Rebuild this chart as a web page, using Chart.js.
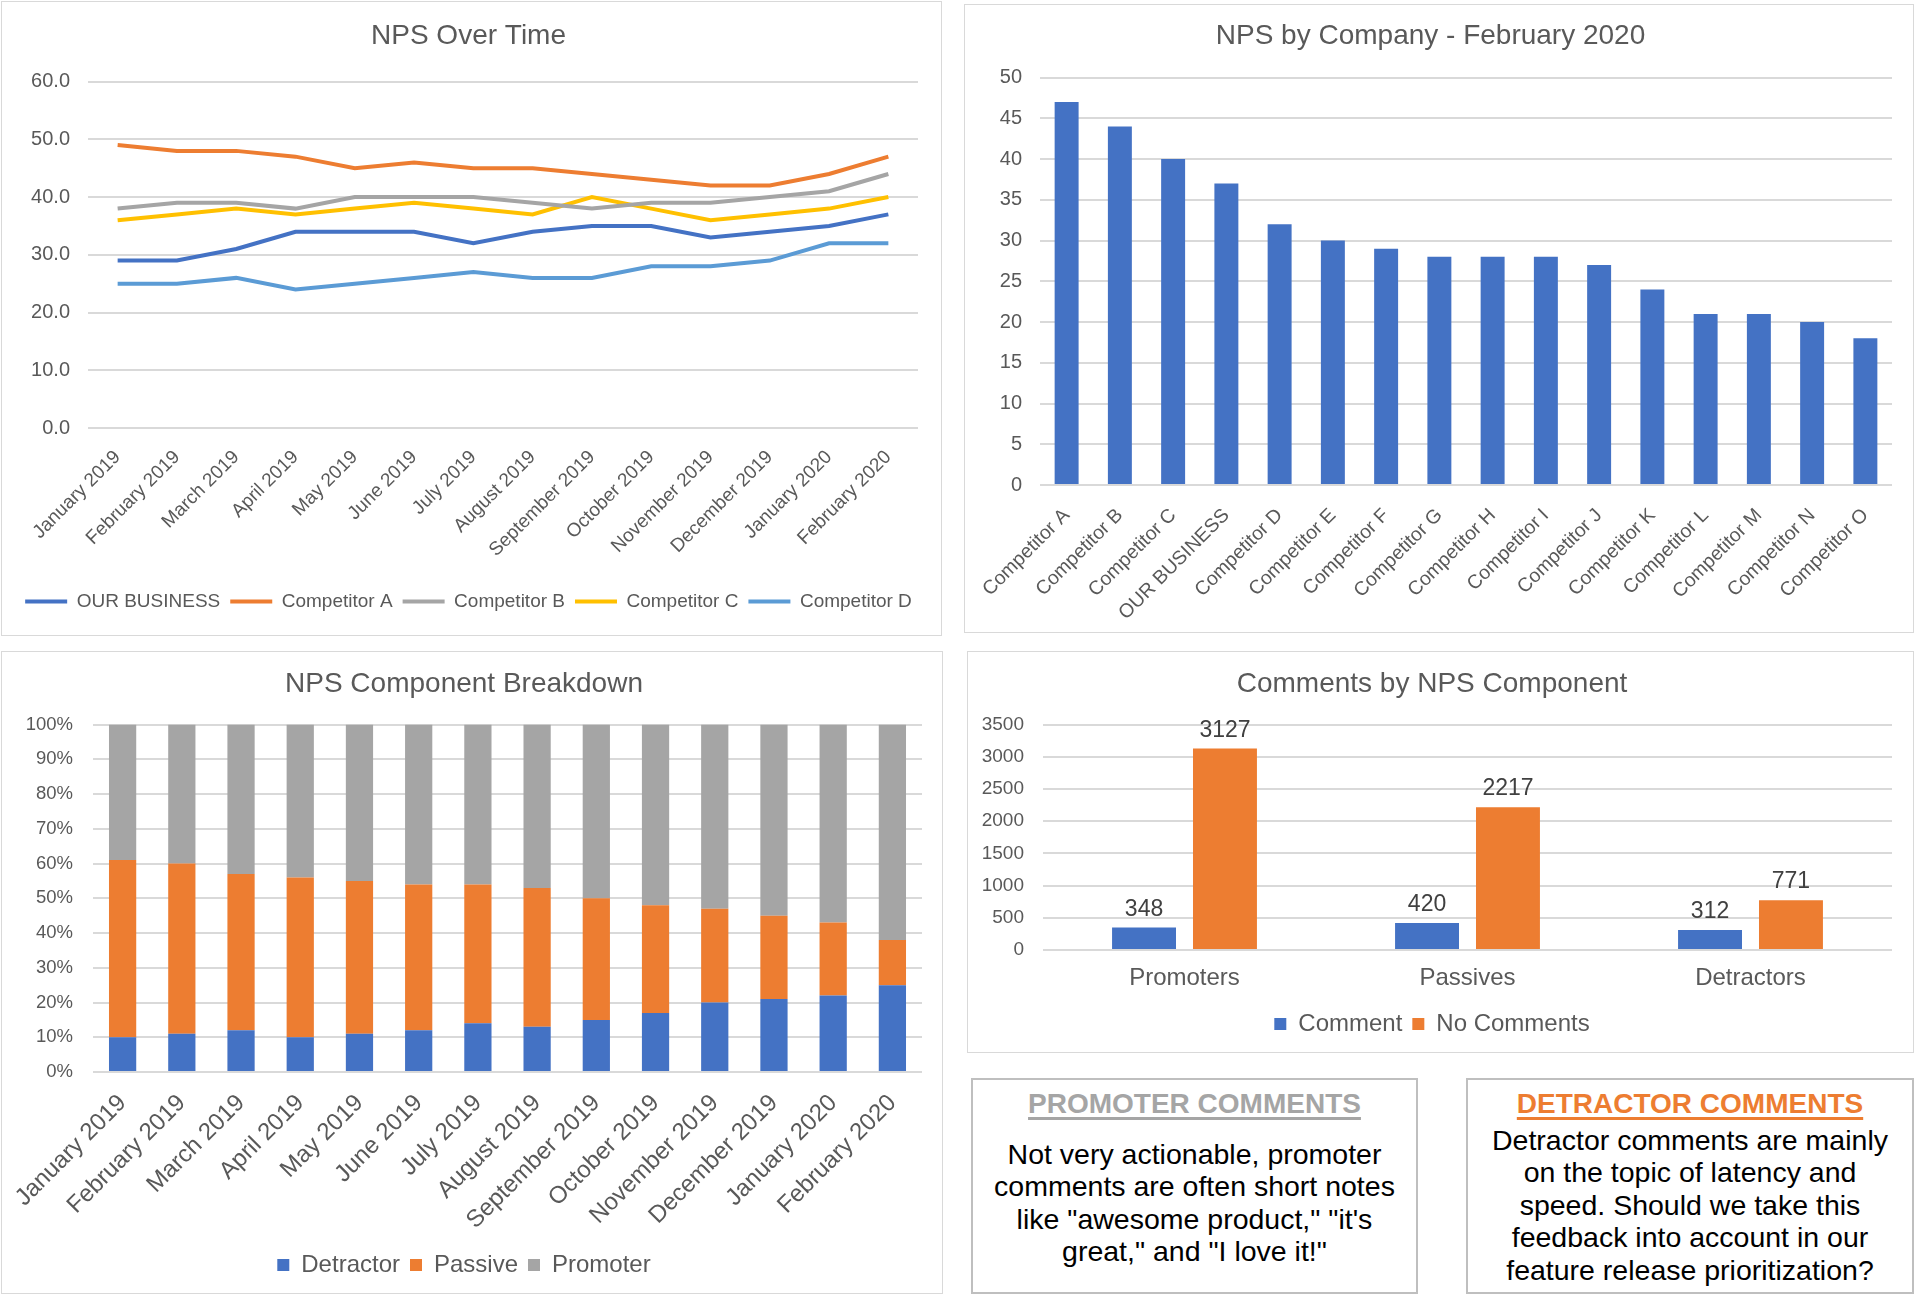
<!DOCTYPE html>
<html>
<head>
<meta charset="utf-8">
<script src="https://cdn.jsdelivr.net/npm/chart.js@4.4.1/dist/chart.umd.min.js"></script>
<style>
  body { margin: 0; background: #fff; width: 1916px; height: 1296px; position: relative; overflow: hidden; font-family: "Liberation Sans", Arial, sans-serif; }
  .panel { position: absolute; border: 1px solid #d9d9d9; box-sizing: border-box; background: #fff; }
  .panel canvas { display: block; }
  .note { position: absolute; border: 2px solid #bfbfbf; box-sizing: border-box; text-align: center; }
  .note h3 { margin: 8px 0 4px 0; font-size: 28px; font-weight: bold; text-decoration: underline; text-decoration-thickness: 3px; text-underline-offset: 4px; }
  .note p { margin: 0 10px; font-size: 28.5px; line-height: 32.4px; color: #000; }
</style>
</head>
<body>
<div class="panel" style="left:1px;top:1px;width:941px;height:635px"><canvas id="lineChart"></canvas></div>
<div class="panel" style="left:964px;top:4px;width:950px;height:629px"><canvas id="companyChart"></canvas></div>
<div class="panel" style="left:1px;top:651px;width:942px;height:643px"><canvas id="stackChart"></canvas></div>
<div class="panel" style="left:967px;top:651px;width:947px;height:402px"><canvas id="commentChart"></canvas></div>
<div class="note" style="left:971px;top:1078px;width:447px;height:216px">
  <h3 style="color:#a5a5a5">PROMOTER COMMENTS</h3>
  <p style="margin-top:18px">Not very actionable, promoter comments are often short notes like "awesome product," "it's great," and "I love it!"</p>
</div>
<div class="note" style="left:1466px;top:1078px;width:448px;height:216px">
  <h3 style="color:#ed7d31">DETRACTOR COMMENTS</h3>
  <p>Detractor comments are mainly on the topic of latency and speed. Should we take this feedback into account in our feature release prioritization?</p>
</div>
<script>
const months = ["January 2019", "February 2019", "March 2019", "April 2019", "May 2019", "June 2019", "July 2019",
  "August 2019", "September 2019", "October 2019", "November 2019", "December 2019", "January 2020", "February 2020"];

const ourBusiness = [29, 29, 31, 34, 34, 34, 32, 34, 35, 35, 33, 34, 35, 37];
const competitorA = [49, 48, 48, 47, 45, 46, 45, 45, 44, 43, 42, 42, 44, 47];
const competitorB = [38, 39, 39, 38, 40, 40, 40, 39, 38, 39, 39, 40, 41, 44];
const competitorC = [36, 37, 38, 37, 38, 39, 38, 37, 40, 38, 36, 37, 38, 40];
const competitorD = [25, 25, 26, 24, 25, 26, 27, 26, 26, 28, 28, 29, 32, 32];

const companies = ["Competitor A", "Competitor B", "Competitor C", "OUR BUSINESS", "Competitor D", "Competitor E",
  "Competitor F", "Competitor G", "Competitor H", "Competitor I", "Competitor J", "Competitor K", "Competitor L",
  "Competitor M", "Competitor N", "Competitor O"];
const companyNps = [47, 44, 40, 37, 32, 30, 29, 28, 28, 28, 27, 24, 21, 21, 20, 18];

const detractorPct = [10, 11, 12, 10, 11, 12, 14, 13, 15, 17, 20, 21, 22, 25];
const passivePct = [51, 49, 45, 46, 44, 42, 40, 40, 35, 31, 27, 24, 21, 13];
const promoterPct = [39, 40, 43, 44, 45, 46, 46, 47, 50, 52, 53, 55, 57, 62];

const components = ["Promoters", "Passives", "Detractors"];
const withComment = [348, 420, 312];
const noComment = [3127, 2217, 771];

const blue = "#4472c4", orange = "#ed7d31", grey = "#a5a5a5", yellow = "#ffc000", lightBlue = "#5b9bd5";
const txt = "#595959", gridCol = "#d9d9d9";

Chart.defaults.font.family = '"Liberation Sans", Arial, sans-serif';
Chart.defaults.color = txt;
Chart.defaults.animation = false;
Chart.defaults.responsive = true;
Chart.defaults.maintainAspectRatio = false;

function titleOpts(text, above, below) {
  return { display: true, text: text, color: txt, font: { size: 28, weight: "normal" }, padding: { top: above, bottom: below } };
}
// fixed axis sizes so the plot areas line up with the original
function fixX(h, padR) {
  return s => { s.height = h; s.paddingLeft = 0; s.paddingRight = padR || 0; };
}
function fixY(w) {
  return s => { s.width = w; };
}
function yGrid() {
  return { color: gridCol, lineWidth: 2, drawTicks: false };
}

// line chart
new Chart("lineChart", {
  type: "line",
  data: {
    labels: months,
    datasets: [
      { label: "OUR BUSINESS", data: ourBusiness, borderColor: blue },
      { label: "Competitor A", data: competitorA, borderColor: orange },
      { label: "Competitor B", data: competitorB, borderColor: grey },
      { label: "Competitor C", data: competitorC, borderColor: yellow },
      { label: "Competitor D", data: competitorD, borderColor: lightBlue }
    ]
  },
  options: {
    layout: { padding: { left: 4, right: 10, bottom: 14 } },
    elements: { line: { borderWidth: 4, tension: 0 }, point: { radius: 0, borderWidth: 4 } },
    plugins: {
      title: titleOpts("NPS Over Time", 17, 29),
      legend: {
        position: "bottom",
        labels: { usePointStyle: true, pointStyle: "line", pointStyleWidth: 42, boxWidth: 42, color: txt, font: { size: 19 }, padding: 10 }
      }
    },
    scales: {
      x: {
        offset: true,
        grid: { display: false },
        border: { display: false },
        ticks: { minRotation: 45, maxRotation: 45, color: txt, font: { size: 19 }, padding: 10 },
        afterFit: fixX(154, 23)
      },
      y: {
        min: 0, max: 60,
        grid: yGrid(),
        border: { display: false },
        ticks: { stepSize: 10, color: txt, font: { size: 20 }, padding: 18, callback: v => v.toFixed(1) },
        afterFit: fixY(82)
      }
    }
  }
});

// company bars
new Chart("companyChart", {
  type: "bar",
  data: {
    labels: companies,
    datasets: [{ label: "NPS", data: companyNps, backgroundColor: blue }]
  },
  options: {
    layout: { padding: { left: 4, right: 21, bottom: 10 } },
    datasets: { bar: { categoryPercentage: 1, barPercentage: 0.45 } },
    plugins: { title: titleOpts("NPS by Company - February 2020", 14, 25), legend: { display: false } },
    scales: {
      x: {
        grid: { display: false },
        border: { display: false },
        ticks: { minRotation: 45, maxRotation: 45, color: txt, font: { size: 19.5 }, padding: 11 },
        afterFit: fixX(137)
      },
      y: {
        min: 0, max: 50,
        grid: yGrid(),
        border: { display: false },
        ticks: { stepSize: 5, color: txt, font: { size: 20 }, padding: 18 },
        afterFit: fixY(71)
      }
    }
  }
});

// stacked component bars
new Chart("stackChart", {
  type: "bar",
  data: {
    labels: months,
    datasets: [
      { label: "Detractor", data: detractorPct, backgroundColor: blue },
      { label: "Passive", data: passivePct, backgroundColor: orange },
      { label: "Promoter", data: promoterPct, backgroundColor: grey }
    ]
  },
  options: {
    layout: { padding: { left: 4, right: 20, bottom: 6 } },
    datasets: { bar: { categoryPercentage: 1, barPercentage: 0.46 } },
    plugins: {
      title: titleOpts("NPS Component Breakdown", 15, 24),
      legend: { position: "bottom", labels: { boxWidth: 12, boxHeight: 12, color: txt, font: { size: 24 }, padding: 10 } }
    },
    scales: {
      x: {
        stacked: true,
        grid: { display: false },
        border: { display: false },
        ticks: { minRotation: 45, maxRotation: 45, color: txt, font: { size: 24 }, padding: 9 },
        afterFit: fixX(171)
      },
      y: {
        stacked: true, min: 0, max: 100,
        grid: yGrid(),
        border: { display: false },
        ticks: { stepSize: 10, color: txt, font: { size: 18.5 }, padding: 20, callback: v => v + "%" },
        afterFit: fixY(87)
      }
    }
  }
});

// value labels above the comment bars
const barValues = {
  id: "barValues",
  afterDatasetsDraw(chart) {
    const ctx = chart.ctx;
    ctx.save();
    ctx.fillStyle = "#404040";
    ctx.font = '23px "Liberation Sans", Arial, sans-serif';
    ctx.textAlign = "center";
    ctx.textBaseline = "alphabetic";
    chart.data.datasets.forEach((ds, i) => {
      chart.getDatasetMeta(i).data.forEach((bar, j) => {
        ctx.fillText(ds.data[j], bar.x, bar.y - 12);
      });
    });
    ctx.restore();
  }
};

new Chart("commentChart", {
  type: "bar",
  data: {
    labels: components,
    datasets: [
      { label: "Comment", data: withComment, backgroundColor: blue },
      { label: "No Comments", data: noComment, backgroundColor: orange }
    ]
  },
  plugins: [barValues],
  options: {
    layout: { padding: { left: 4, right: 21, bottom: 6 } },
    datasets: { bar: { categoryPercentage: 0.572, barPercentage: 0.79 } },
    plugins: {
      title: titleOpts("Comments by NPS Component", 15, 24),
      legend: { position: "bottom", labels: { boxWidth: 12, boxHeight: 12, color: txt, font: { size: 24 }, padding: 10 } }
    },
    scales: {
      x: {
        grid: { display: false },
        border: { display: false },
        ticks: { color: txt, font: { size: 24 }, padding: 6 },
        afterFit: fixX(52)
      },
      y: {
        min: 0, max: 3500,
        grid: yGrid(),
        border: { display: false },
        ticks: { stepSize: 500, color: txt, font: { size: 19 }, padding: 19, callback: v => String(v) },
        afterFit: fixY(71)
      }
    }
  }
});
</script>
</body>
</html>
